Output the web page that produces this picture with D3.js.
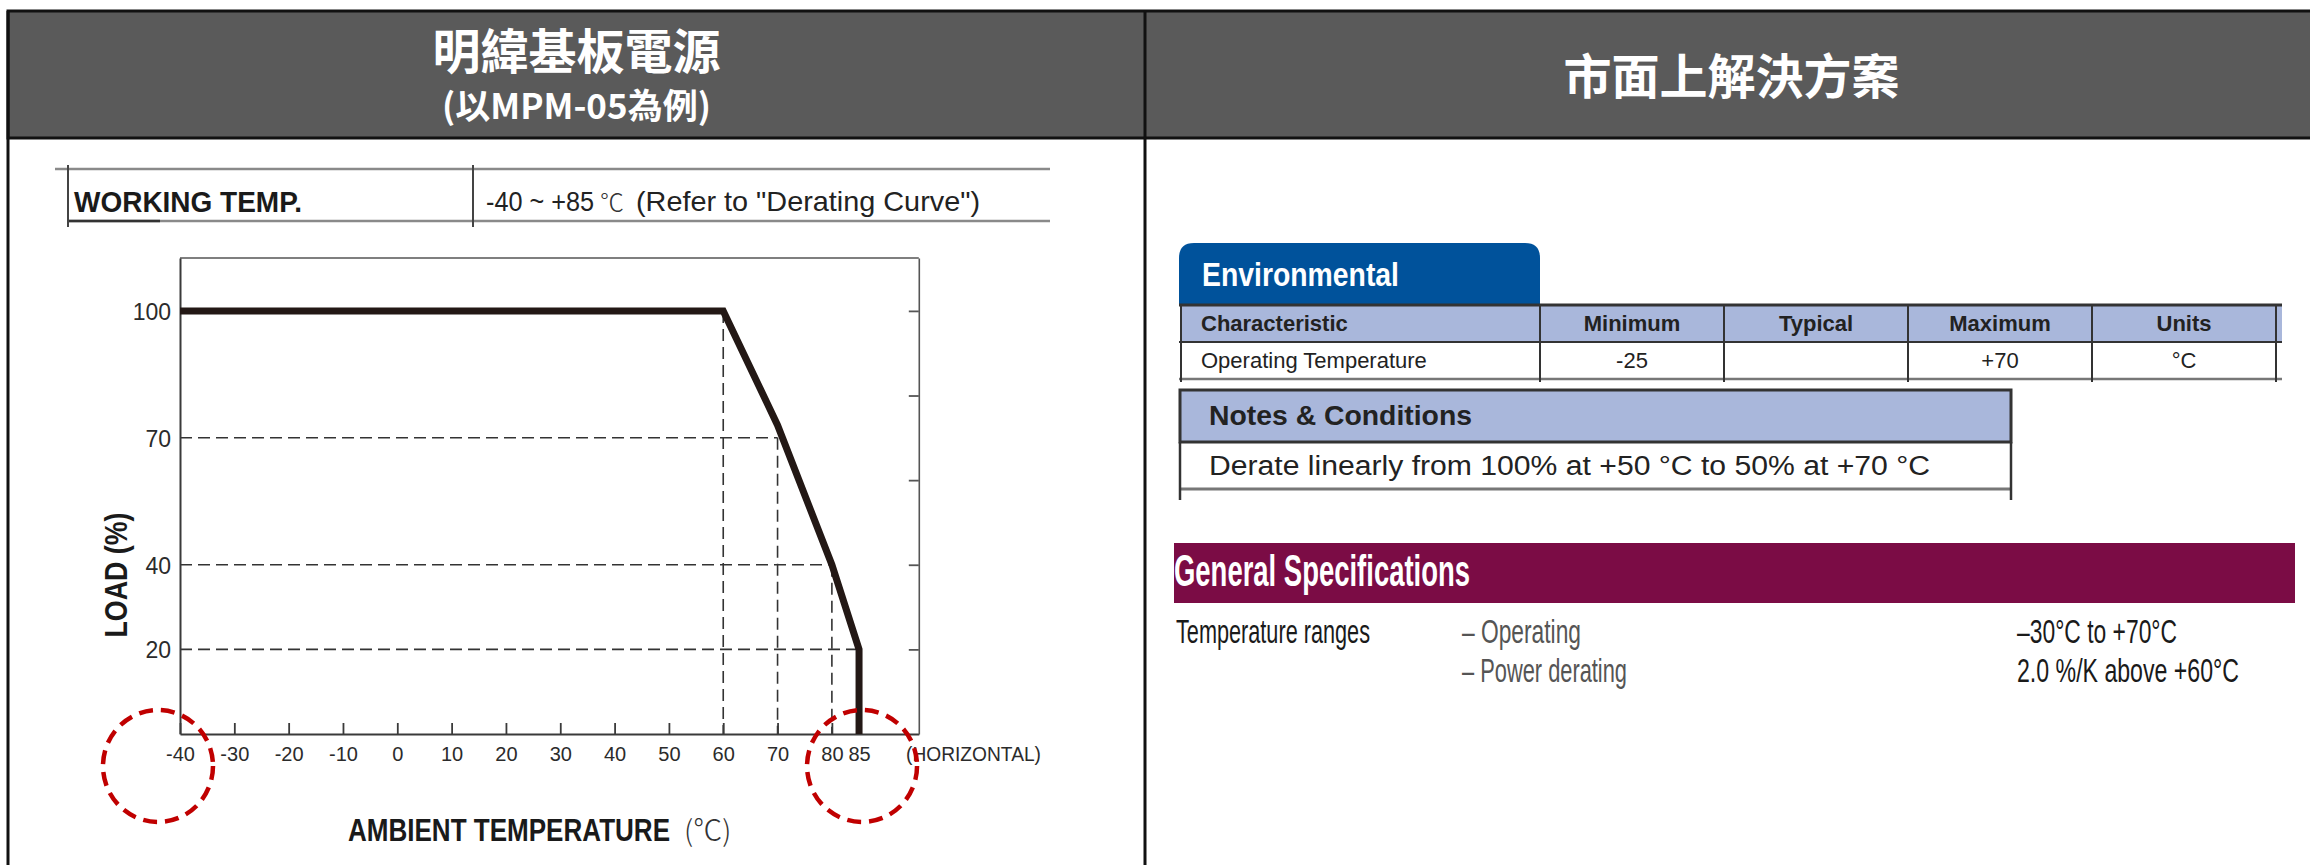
<!DOCTYPE html>
<html><head><meta charset="utf-8">
<script src="https://cdn.jsdelivr.net/npm/d3@7"></script>
<style>body{margin:0;background:#fff;overflow:hidden}</style>
</head><body>
<svg id="c" width="2310" height="865" xmlns="http://www.w3.org/2000/svg"></svg>
<script>
// ---------- data ----------
const leftTitle = ["明緯基板電源", "(以MPM-05為例)"];
const rightTitle = "市面上解決方案";
const specLabel = "WORKING TEMP.";
const specValue = ["-40 ~ +85", "℃", "(Refer to \"Derating Curve\")"];
const curveTemp = [-40, 60, 70, 80, 85, 85];
const curveLoad = [100, 100, 73, 40, 20, 0];
const xTickValues = [-40, -30, -20, -10, 0, 10, 20, 30, 40, 50, 60, 70, 80, 85];
const yTickValues = [100, 70, 40, 20];
const rightTickValues = [100, 80, 60, 40, 20];
const guideTemp = [60, 70, 80, 85];
const guideLoad = [100, 70, 40, 20];
const highlightTemps = [-40, 85];
const xAxisTitle = "AMBIENT TEMPERATURE";
const xAxisUnit = "(℃)";
const yAxisTitle = "LOAD (%)";
const xAxisNote = "(HORIZONTAL)";
const envTitle = "Environmental";
const envHeaders = ["Characteristic", "Minimum", "Typical", "Maximum", "Units"];
const envValues = ["Operating Temperature", "-25", "", "+70", "°C"];
const notesTitle = "Notes & Conditions";
const notesText = "Derate linearly from 100% at +50 °C to 50% at +70 °C";
const genTitle = "General Specifications";
const genRowLabel = "Temperature ranges";
const genItems = ["– Operating", "– Power derating"];
const genValues = ["–30°C to +70°C", "2.0 %/K above +60°C"];

// ---------- fonts ----------
function hasFont(name) {
  const c = document.createElement("canvas").getContext("2d");
  const s = "abcdefghijklmWMi0123";
  c.font = "40px monospace"; const a = c.measureText(s).width;
  c.font = `40px "${name}", monospace`; return c.measureText(s).width !== a;
}
const NARROW_OK = hasFont("Liberation Sans Narrow");
const SANS = '"Liberation Sans", Arial, sans-serif';
const NARROW = NARROW_OK ? '"Liberation Sans Narrow", "Liberation Sans", sans-serif' : SANS;
const CJK = '"Noto Sans CJK TC", "Noto Sans CJK SC", sans-serif';

const svg = d3.select("#c");
svg.append("rect").attr("width", 2310).attr("height", 865).attr("fill", "#fff");

function txt(p, o) {
  const t = p.append("text").attr("x", o.x).attr("y", o.y).text(o.t)
    .style("font-family", o.f || SANS).style("font-size", o.s + "px")
    .style("font-weight", o.w || 400).attr("fill", o.c || "#222")
    .attr("text-anchor", o.a || "start");
  if (o.len) t.attr("textLength", o.len).attr("lengthAdjust", o.adj || "spacingAndGlyphs");
  return t;
}

// ---------- header band ----------
const DIV = 1145;
svg.append("rect").attr("x", 8).attr("y", 11).attr("width", 2310).attr("height", 127)
  .attr("fill", "#5a5a5a").attr("stroke", "#111").attr("stroke-width", 3);
txt(svg, {x: (8 + DIV) / 2, y: 69, t: leftTitle[0], s: 48, w: 700, c: "#fff", a: "middle", f: CJK});
txt(svg, {x: (8 + DIV) / 2, y: 119, t: leftTitle[1], s: 35, w: 700, c: "#fff", a: "middle", f: CJK});
txt(svg, {x: (DIV + 2310) / 2 + 4, y: 94, t: rightTitle, s: 48, w: 700, c: "#fff", a: "middle", f: CJK});
// panel borders
svg.append("line").attr("x1", 8).attr("x2", 8).attr("y1", 11).attr("y2", 865).attr("stroke", "#111").attr("stroke-width", 3);
svg.append("line").attr("x1", DIV).attr("x2", DIV).attr("y1", 11).attr("y2", 865).attr("stroke", "#111").attr("stroke-width", 3);

// ---------- left spec row ----------
const spec = svg.append("g");
spec.append("line").attr("x1", 55).attr("x2", 1050).attr("y1", 169).attr("y2", 169).attr("stroke", "#8a8a8a").attr("stroke-width", 2.5);
spec.append("line").attr("x1", 68).attr("x2", 1050).attr("y1", 221).attr("y2", 221).attr("stroke", "#8a8a8a").attr("stroke-width", 2.5);
spec.append("line").attr("x1", 68).attr("x2", 160).attr("y1", 221).attr("y2", 221).attr("stroke", "#333").attr("stroke-width", 2.5);
[68, 473].forEach(x => spec.append("line").attr("x1", x).attr("x2", x).attr("y1", 165).attr("y2", 227).attr("stroke", "#444").attr("stroke-width", 2));
txt(spec, {x: 74, y: 212, t: specLabel, s: 29, w: 700, c: "#1a1a1a", f: NARROW, len: 228});
txt(spec, {x: 486, y: 211, t: specValue[0], s: 28, c: "#222", f: NARROW, len: 108});
txt(spec, {x: 600, y: 211, t: specValue[1], s: 24, w: 300, c: "#333", f: CJK});
txt(spec, {x: 636, y: 211, t: specValue[2], s: 28, c: "#222", f: NARROW, len: 344});

// ---------- derating chart ----------
const x = d3.scaleLinear().domain([-40, 96]).range([180, 918.8]);
const y = d3.scaleLinear().domain([0, 112.5]).range([734, 258]);
const ch = svg.append("g");
const axisCol = "#3a3a3a";
// frame top
ch.append("line").attr("x1", x(-40)).attr("x2", x(96)).attr("y1", y(112.5)).attr("y2", y(112.5)).attr("stroke", "#555").attr("stroke-width", 1.6);

// guides
const dash = "12,6";
guideTemp.forEach((t, i) => {
  if (i > 0) ch.append("line").attr("x1", x(-40)).attr("x2", x(t)).attr("y1", y(guideLoad[i])).attr("y2", y(guideLoad[i]))
    .attr("stroke", "#333").attr("stroke-width", 1.6).attr("stroke-dasharray", dash);
  if (i < 3) ch.append("line").attr("x1", x(t)).attr("x2", x(t)).attr("y1", y(guideLoad[i])).attr("y2", y(0))
    .attr("stroke", "#333").attr("stroke-width", 1.6).attr("stroke-dasharray", dash);
});

// axes
const xAxis = d3.axisBottom(x).tickValues(xTickValues).tickSizeInner(-11).tickSizeOuter(0).tickFormat(d => String(d));
const gx = ch.append("g").attr("transform", `translate(0,${y(0)})`).call(xAxis);
gx.select(".domain").attr("stroke", axisCol).attr("stroke-width", 2.2);
gx.selectAll(".tick line").attr("stroke", axisCol).attr("stroke-width", 1.8);
gx.selectAll(".tick text").attr("y", 27).attr("dy", 0).attr("fill", "#2b2b2b")
  .style("font-family", SANS).style("font-size", "20px");

const yAxis = d3.axisLeft(y).tickValues(yTickValues).tickSize(0).tickPadding(9).tickFormat(d => String(d));
const gy = ch.append("g").attr("transform", `translate(${x(-40)},0)`).call(yAxis);
gy.select(".domain").attr("stroke", axisCol).attr("stroke-width", 2);
gy.selectAll(".tick text").attr("fill", "#2b2b2b").attr("dy", "0.36em")
  .style("font-family", NARROW).style("font-size", "23px");

const rAxis = d3.axisLeft(y).tickValues(rightTickValues).tickSizeInner(10).tickSizeOuter(0).tickFormat("");
const gr = ch.append("g").attr("transform", `translate(${x(96)},0)`).call(rAxis);
gr.select(".domain").attr("stroke", "#555").attr("stroke-width", 1.6);
gr.selectAll(".tick line").attr("stroke", "#555").attr("stroke-width", 1.8);

// curve
const pts = curveTemp.map((t, i) => [t, curveLoad[i]]);
ch.append("path").attr("d", d3.line().x(d => x(d[0])).y(d => y(d[1]))(pts))
  .attr("fill", "none").attr("stroke", "#231815").attr("stroke-width", 7).attr("stroke-linejoin", "miter");

// axis titles
txt(ch, {x: 906, y: 761, t: xAxisNote, s: 20, c: "#2b2b2b", len: 135});
txt(ch, {x: 348, y: 841, t: xAxisTitle, s: 31, w: 700, c: "#1a1a1a", f: NARROW, len: 322});
txt(ch, {x: 684, y: 841, t: xAxisUnit, s: 29, w: 300, c: "#333", f: CJK});
ch.append("text").attr("transform", "translate(127,575) rotate(-90)").attr("text-anchor", "middle")
  .text(yAxisTitle).attr("fill", "#1a1a1a").style("font-family", NARROW).style("font-weight", 700).style("font-size", "32px")
  .attr("textLength", 125).attr("lengthAdjust", "spacingAndGlyphs");

// highlight circles
const hlOffset = [-22, 3];
highlightTemps.forEach((t, i) => {
  ch.append("ellipse").attr("cx", x(t) + hlOffset[i]).attr("cy", y(0) + 32).attr("rx", 55).attr("ry", 56)
    .attr("fill", "none").attr("stroke", "#c00000").attr("stroke-width", 4.5).attr("stroke-dasharray", "14,8");
});

// ---------- right panel ----------
const rp = svg.append("g");
const BLUE = "#00529b", LBLUE = "#a9b7db", LINE = "#333";
rp.append("path").attr("d", "M1179,306 V258 Q1179,243 1194,243 H1525 Q1540,243 1540,258 V306 Z").attr("fill", BLUE);
txt(rp, {x: 1202, y: 286, t: envTitle, s: 33, w: 700, c: "#fff", f: NARROW, len: 197});

const cols = [1181, 1540, 1724, 1908, 2092, 2276];
rp.append("rect").attr("x", 1181).attr("y", 305).attr("width", 2282 - 1181).attr("height", 37).attr("fill", LBLUE);
rp.append("line").attr("x1", 1179).attr("x2", 2282).attr("y1", 305).attr("y2", 305).attr("stroke", LINE).attr("stroke-width", 3);
rp.append("line").attr("x1", 1179).attr("x2", 2282).attr("y1", 342).attr("y2", 342).attr("stroke", LINE).attr("stroke-width", 2.2);
rp.append("line").attr("x1", 1179).attr("x2", 2282).attr("y1", 379).attr("y2", 379).attr("stroke", "#777").attr("stroke-width", 2.5);
cols.forEach(c => rp.append("line").attr("x1", c).attr("x2", c).attr("y1", 305).attr("y2", 382).attr("stroke", LINE).attr("stroke-width", 2));
envHeaders.forEach((h, i) => {
  const cx = i === 0 ? 1201 : (cols[i] + cols[i + 1]) / 2;
  txt(rp, {x: cx, y: 331, t: h, s: 22, w: 700, c: "#222", a: i === 0 ? "start" : "middle"});
  if (envValues[i]) txt(rp, {x: cx, y: 368, t: envValues[i], s: 22, c: "#222", a: i === 0 ? "start" : "middle"});
});

// notes
rp.append("rect").attr("x", 1180).attr("y", 390).attr("width", 831).attr("height", 52).attr("fill", LBLUE)
  .attr("stroke", LINE).attr("stroke-width", 3);
rp.append("line").attr("x1", 1180).attr("x2", 2011).attr("y1", 489).attr("y2", 489).attr("stroke", "#777").attr("stroke-width", 3);
[1180, 2011].forEach(c => rp.append("line").attr("x1", c).attr("x2", c).attr("y1", 442).attr("y2", 500).attr("stroke", LINE).attr("stroke-width", 2.5));
txt(rp, {x: 1209, y: 425, t: notesTitle, s: 28, w: 700, c: "#222", len: 263});
txt(rp, {x: 1209, y: 475, t: notesText, s: 27, c: "#222", len: 721});

// general specs
rp.append("rect").attr("x", 1174).attr("y", 543).attr("width", 2295 - 1174).attr("height", 60).attr("fill", "#7b0c45");
txt(rp, {x: 1174, y: 586, t: genTitle, s: 44, w: 700, c: "#fff", f: NARROW, len: 296});
txt(rp, {x: 1176, y: 643, t: genRowLabel, s: 33, c: "#1a1a1a", f: NARROW, len: 194});
const genItemLen = [119, 165], genValLen = [160, 222];
genItems.forEach((g, i) => {
  txt(rp, {x: 1462, y: 643 + i * 39, t: g, s: 33, c: "#555", f: NARROW, len: genItemLen[i]});
  txt(rp, {x: 2017, y: 643 + i * 39, t: genValues[i], s: 33, c: "#1a1a1a", f: NARROW, len: genValLen[i]});
});
</script>
</body></html>
